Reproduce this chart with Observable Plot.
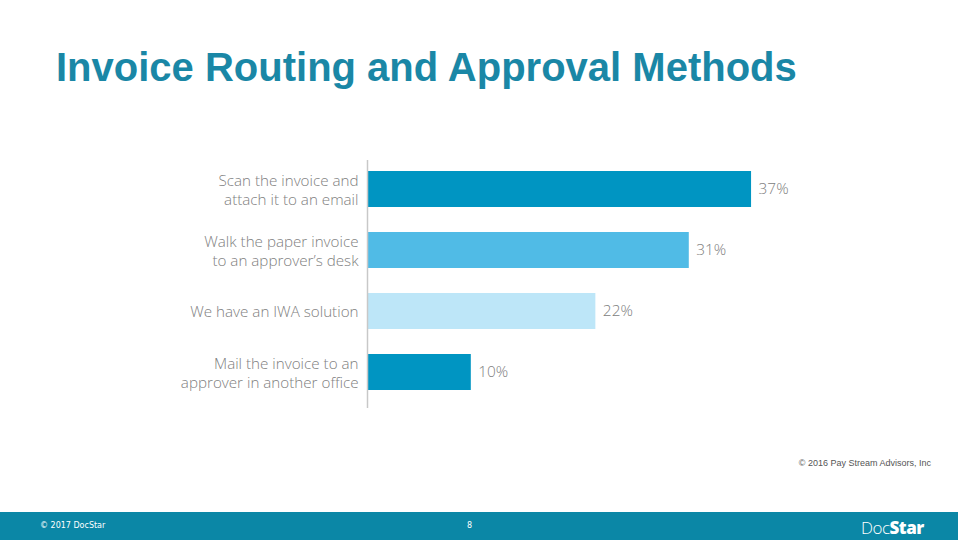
<!DOCTYPE html>
<html>
<head>
<meta charset="utf-8">
<script src="https://cdn.jsdelivr.net/npm/d3@7"></script>
<script src="https://cdn.jsdelivr.net/npm/@observablehq/plot@0.6"></script>
<style>
  html, body { margin: 0; padding: 0; background: #fff; }
  #page { position: relative; width: 958px; height: 540px; overflow: hidden; background: #fff; }
  #title { position: absolute; left: 56px; top: 45px; font-family: "Liberation Sans", Arial, sans-serif; font-weight: bold; font-size: 40px; color: #1a87a6; white-space: nowrap; line-height: normal; }
  #chart { position: absolute; left: 0; top: 150px; }
  #credit { position: absolute; right: 27px; top: 458px; font-family: "Liberation Sans", Arial, sans-serif; font-size: 9px; color: #555; }
  #footer { position: absolute; left: 0; top: 512px; width: 958px; height: 28px; background: #0b87a6; color: #fff; font-family: "DejaVu Sans", Tahoma, sans-serif; }
  #footer .c { position: absolute; left: 40px; top: 9px; font-size: 8px; }
  #footer .n { position: absolute; left: 467px; top: 9px; font-size: 8px; }
  #footer .logo { position: absolute; left: 861px; top: 4px; font-family: "Open Sans", sans-serif; font-size: 17px; letter-spacing: -0.5px; }
  #footer .logo b { font-weight: 800; }
</style>
</head>
<body>
<div id="page">
  <div id="title">Invoice Routing and Approval Methods</div>
  <div id="chart"></div>
  <div id="credit">© 2016 Pay Stream Advisors, Inc</div>
  <div id="footer">
    <span class="c">© 2017 DocStar</span>
    <span class="n">8</span>
    <span class="logo"><span style="font-weight:300">Doc</span><b>Star</b></span>
  </div>
</div>
<script>
const categories = [
  "Scan the invoice and\nattach it to an email",
  "Walk the paper invoice\nto an approver’s desk",
  "We have an IWA solution",
  "Mail the invoice to an\napprover in another office"
];
const values = [37, 31, 22, 10];
const barColors = ["#0095c2", "#50bbe6", "#bde6f8", "#0095c2"];

const data = categories.map((c, i) => ({label: c, value: values[i], color: barColors[i]}));

const chart = Plot.plot({
  width: 958,
  height: 265,
  marginLeft: 367,
  marginRight: 72,
  marginTop: 10,
  marginBottom: 7,
  style: {fontFamily: "'Open Sans', sans-serif", background: "transparent"},
  x: {domain: [0, 50], range: [367, 886], axis: null},
  y: {domain: categories, range: [7.4, 252.6], paddingInner: 0.41, paddingOuter: 0.205, axis: null},
  color: {type: "identity"},
  marks: [
    Plot.barX(data, {x: "value", y: "label", fill: "color"}),
    Plot.ruleX([0], {stroke: "#c8c8c8", strokeWidth: 1.5}),
    Plot.text(data, {x: 0, y: "label", text: "label", textAnchor: "end", dx: -9, lineHeight: 1.21, fontSize: 15.2, fill: "#808080", fontWeight: 300}),
    Plot.text(data, {x: "value", y: "label", text: d => d.value + "%", textAnchor: "start", dx: 7, fontSize: 15.4, fill: "#808080", fontWeight: 300})
  ]
});
document.getElementById("chart").appendChild(chart);
</script>
</body>
</html>
